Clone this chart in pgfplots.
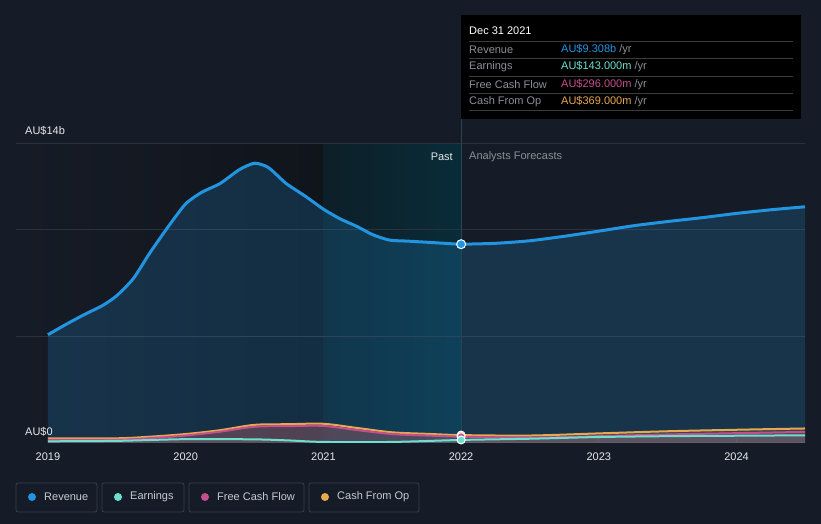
\documentclass[border=0pt]{standalone}
\usepackage{pgfplots}
\pgfplotsset{compat=1.18}
\usepackage{fontspec}
\setmainfont{Liberation Sans}

\definecolor{bg}{HTML}{161C27}
\definecolor{gridc}{HTML}{2C323D}
\definecolor{rev}{HTML}{2394DF}
\definecolor{earn}{HTML}{6CE0CF}
\definecolor{fcf}{HTML}{C54E8F}
\definecolor{cfo}{HTML}{E8A850}
\definecolor{txt}{HTML}{E6E8EB}
\definecolor{muted}{HTML}{8A8F98}
\definecolor{boxc}{HTML}{3A404B}
\definecolor{pastdark}{HTML}{10141B}
\definecolor{tealL}{HTML}{0D1F28}
\definecolor{tealR}{HTML}{092C39}
\definecolor{vline}{HTML}{264654}
\definecolor{sep}{HTML}{3C3C3C}

\begin{document}
\begin{tikzpicture}[x=1pt,y=1pt,font=\fontsize{11}{13}\selectfont]
\fill[bg] (0,0) rectangle (821,524);

\begin{axis}[
    at={(16pt,81pt)}, anchor=south west,
    scale only axis, width=789pt, height=299pt,
    xmin=2018.768, xmax=2024.497, ymin=0, ymax=14,
    axis x line*=bottom, axis y line=none,
    axis line style={gridc, line width=1pt},
    ytick=\empty,
    xtick={2019,2020,2021,2022,2023,2024},
    xticklabels={2019,2020,2021,2022,2023,2024},
    x tick label style={text=txt, font=\fontsize{11}{13}\selectfont, yshift=-6pt},
    x tick style={gridc, line width=1pt},
    major tick length=4pt, tick pos=bottom,
]
% past / forecast shading
\fill[left color=bg, right color=pastdark] (axis cs:2018.768,0) rectangle (axis cs:2021,14);
\fill[left color=tealL, right color=tealR] (axis cs:2021,0) rectangle (axis cs:2022,14);
% horizontal grid over the shading
\draw[gridc, line width=1pt] (axis cs:2018.768,5) -- (axis cs:2024.497,5);
\draw[gridc, line width=1pt] (axis cs:2018.768,10) -- (axis cs:2024.497,10);
\draw[gridc, line width=1pt] (axis cs:2018.768,14) -- (axis cs:2024.497,14);

% revenue area
\addplot[draw=none, fill=rev, fill opacity=0.2, smooth, tension=0.4] coordinates {
(2019.0,5.07) (2019.13,5.55) (2019.26,6.0) (2019.40,6.45) (2019.50,6.9) (2019.62,7.7)
(2019.74,8.9) (2019.87,10.1) (2020.0,11.2) (2020.12,11.75) (2020.25,12.15) (2020.39,12.8)
(2020.5,13.1) (2020.6,12.9) (2020.73,12.15) (2020.87,11.55) (2021.0,10.95) (2021.12,10.5)
(2021.24,10.15) (2021.36,9.75) (2021.48,9.5) (2021.62,9.45) (2021.75,9.4) (2021.88,9.35)
(2022.0,9.31) (2022.25,9.35) (2022.5,9.47) (2022.75,9.68) (2023.0,9.92) (2023.25,10.17)
(2023.5,10.37) (2023.75,10.55) (2024.0,10.75) (2024.25,10.92) (2024.497,11.06)
} \closedcycle;

% small series areas
\addplot[draw=none, fill=cfo, fill opacity=0.15, smooth] coordinates {
(2019.0,0.22) (2019.5,0.22) (2019.75,0.3) (2020.0,0.42) (2020.25,0.6) (2020.5,0.85)
(2020.75,0.88) (2021.0,0.9) (2021.25,0.7) (2021.5,0.5) (2021.75,0.43) (2022.0,0.37)
(2022.5,0.35) (2023.0,0.45) (2023.5,0.55) (2024.0,0.62) (2024.497,0.68)
} \closedcycle;
\addplot[draw=none, fill=fcf, fill opacity=0.2, smooth] coordinates {
(2019.0,0.15) (2019.5,0.15) (2019.75,0.23) (2020.0,0.35) (2020.25,0.53) (2020.5,0.76)
(2020.75,0.79) (2021.0,0.8) (2021.25,0.6) (2021.5,0.42) (2021.75,0.35) (2022.0,0.296)
(2022.5,0.25) (2023.0,0.32) (2023.5,0.4) (2024.0,0.46) (2024.497,0.52)
} \closedcycle;
\addplot[draw=none, fill=gray, fill opacity=0.25, smooth] coordinates {
(2019.0,0.08) (2019.5,0.1) (2020.0,0.18) (2020.5,0.17) (2020.75,0.12) (2021.0,0.05)
(2021.5,0.05) (2022.0,0.143) (2022.5,0.2) (2023.0,0.28) (2023.5,0.32) (2024.0,0.34) (2024.497,0.36)
} \closedcycle;

% lines
\addplot[cfo, line width=2pt, smooth] coordinates {
(2019.0,0.22) (2019.5,0.22) (2019.75,0.3) (2020.0,0.42) (2020.25,0.6) (2020.5,0.85)
(2020.75,0.88) (2021.0,0.9) (2021.25,0.7) (2021.5,0.5) (2021.75,0.43) (2022.0,0.37)
(2022.5,0.35) (2023.0,0.45) (2023.5,0.55) (2024.0,0.62) (2024.497,0.68)
};
\addplot[fcf, line width=2pt, smooth] coordinates {
(2019.0,0.15) (2019.5,0.15) (2019.75,0.23) (2020.0,0.35) (2020.25,0.53) (2020.5,0.76)
(2020.75,0.79) (2021.0,0.8) (2021.25,0.6) (2021.5,0.42) (2021.75,0.35) (2022.0,0.296)
(2022.5,0.25) (2023.0,0.32) (2023.5,0.4) (2024.0,0.46) (2024.497,0.52)
};
\addplot[earn, line width=2pt, smooth] coordinates {
(2019.0,0.08) (2019.5,0.1) (2020.0,0.18) (2020.5,0.17) (2020.75,0.12) (2021.0,0.05)
(2021.5,0.05) (2022.0,0.143) (2022.5,0.2) (2023.0,0.28) (2023.5,0.32) (2024.0,0.34) (2024.497,0.36)
};
\addplot[rev, line width=3pt, smooth, tension=0.4] coordinates {
(2019.0,5.07) (2019.13,5.55) (2019.26,6.0) (2019.40,6.45) (2019.50,6.9) (2019.62,7.7)
(2019.74,8.9) (2019.87,10.1) (2020.0,11.2) (2020.12,11.75) (2020.25,12.15) (2020.39,12.8)
(2020.5,13.1) (2020.6,12.9) (2020.73,12.15) (2020.87,11.55) (2021.0,10.95) (2021.12,10.5)
(2021.24,10.15) (2021.36,9.75) (2021.48,9.5) (2021.62,9.45) (2021.75,9.4) (2021.88,9.35)
(2022.0,9.31) (2022.25,9.35) (2022.5,9.47) (2022.75,9.68) (2023.0,9.92) (2023.25,10.17)
(2023.5,10.37) (2023.75,10.55) (2024.0,10.75) (2024.25,10.92) (2024.497,11.06)
};
\end{axis}

% vertical marker line
\draw[vline, line width=1pt] (461,81) -- (461,509);

% markers at Dec 31 2021, over the line
\begin{axis}[
    at={(16pt,81pt)}, anchor=south west,
    scale only axis, width=789pt, height=299pt,
    xmin=2018.768, xmax=2024.497, ymin=0, ymax=14,
    hide axis, clip=false,
]
\addplot[only marks, mark=*, mark size=4pt, mark options={fill=cfo, draw=white, line width=1pt}] coordinates {(2022,0.369)};
\addplot[only marks, mark=*, mark size=4pt, mark options={fill=fcf, draw=white, line width=1pt}] coordinates {(2022,0.296)};
\addplot[only marks, mark=*, mark size=4pt, mark options={fill=earn, draw=white, line width=1pt}] coordinates {(2022,0.143)};
\addplot[only marks, mark=*, mark size=4.5pt, mark options={fill=rev, draw=white, line width=1pt}] coordinates {(2022,9.308)};
\end{axis}

% y labels
\node[anchor=west, text=txt, inner sep=0] at (25,393) {AU\$14b};
\node[anchor=west, text=txt, inner sep=0] at (25,92) {AU\$0};
\node[anchor=east, text=txt, inner sep=0] at (453,367) {Past};
\node[anchor=west, text=muted, inner sep=0] at (469,367) {Analysts Forecasts};

% tooltip
\fill[black] (461,405) rectangle (801,509);
\node[anchor=west, text=white, inner sep=0] at (469,493) {Dec 31 2021};
\foreach \yy in {483,466,448,431,414} \draw[sep, line width=0.8pt] (469,\yy) -- (793,\yy);
\node[anchor=west, text=muted, inner sep=0] at (469,474) {Revenue};
\node[anchor=west, text=muted, inner sep=0] at (469,457) {Earnings};
\node[anchor=west, text=muted, inner sep=0] at (469,439) {Free Cash Flow};
\node[anchor=west, text=muted, inner sep=0] at (469,422) {Cash From Op};
\node[anchor=west, inner sep=0] at (561,474) {\textcolor{rev}{AU\$9.308b} \textcolor{muted}{/yr}};
\node[anchor=west, inner sep=0] at (561,457) {\textcolor{earn}{AU\$143.000m} \textcolor{muted}{/yr}};
\node[anchor=west, inner sep=0] at (561,439) {\textcolor{fcf}{AU\$296.000m} \textcolor{muted}{/yr}};
\node[anchor=west, inner sep=0] at (561,422) {\textcolor{cfo}{AU\$369.000m} \textcolor{muted}{/yr}};

% legend
\foreach \xa/\xb/\c/\t in {16/97/rev/Revenue, 102/184/earn/Earnings, 189/304/fcf/Free Cash Flow, 309/419/cfo/Cash From Op}{
  \draw[boxc, line width=0.8pt, rounded corners=2pt] (\xa,12) rectangle (\xb,41);
  \fill[\c] (\xa+16,27) circle (4);
  \node[anchor=west, text=txt!85!bg, inner sep=0] at (\xa+28,27) {\t};
}
\end{tikzpicture}
\end{document}
